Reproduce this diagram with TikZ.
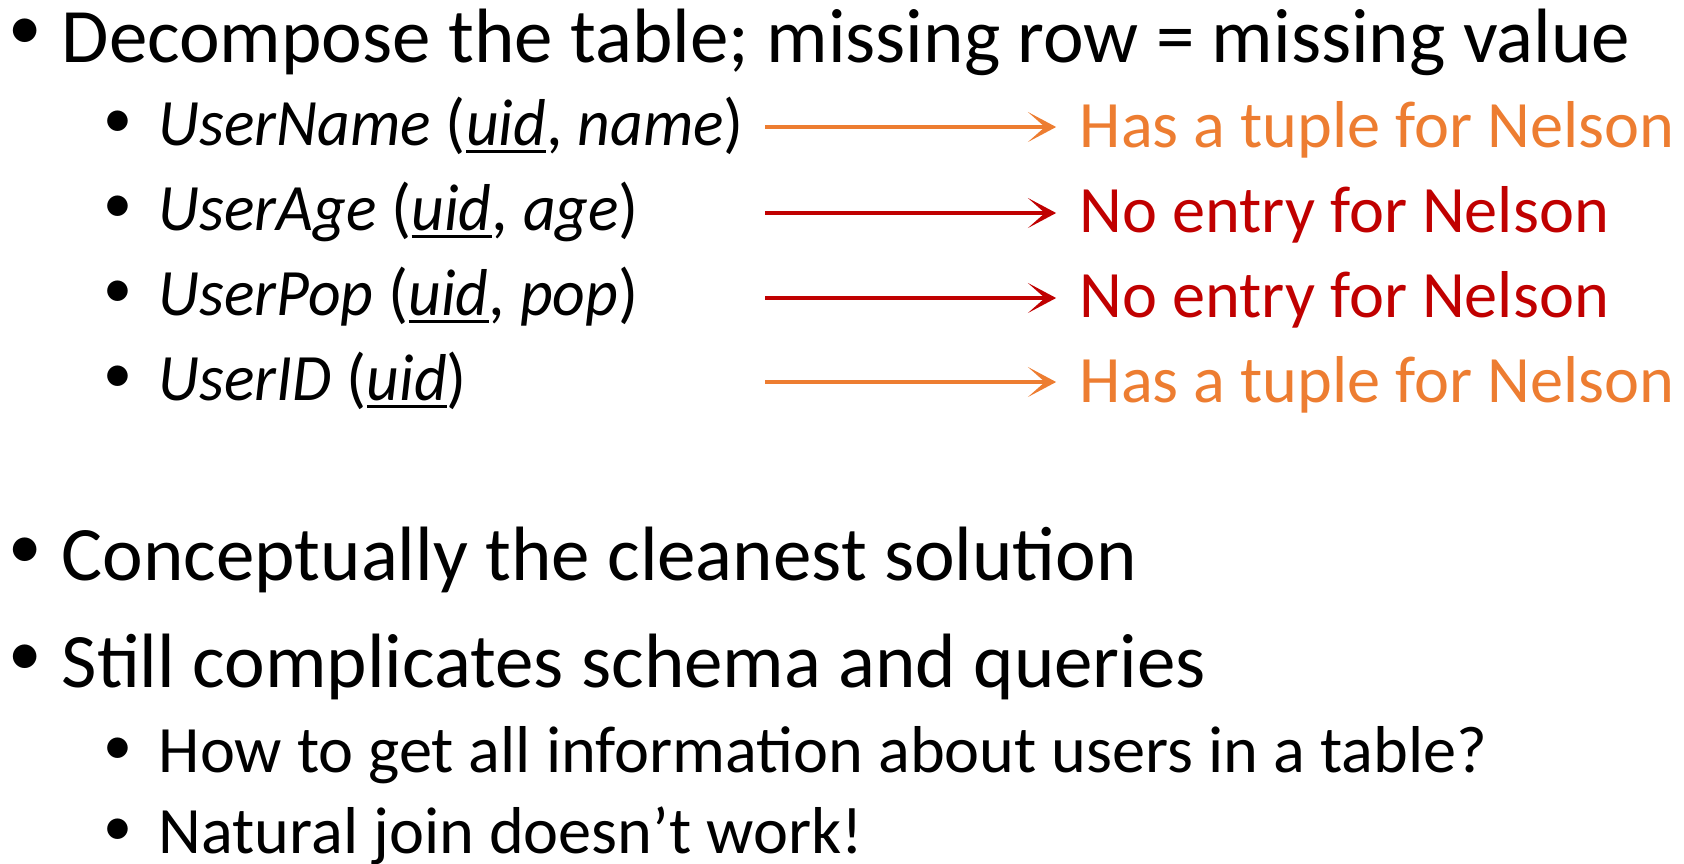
\documentclass[tikz,border=0pt]{standalone}
\usepackage{fontspec}
\setmainfont[ItalicFeatures={FakeStretch=0.96}]{Carlito}
\usepackage{xcolor}
\usepackage{tikz}
\usetikzlibrary{arrows.meta, positioning, calc}
\definecolor{hasorange}{HTML}{ED7D31}
\definecolor{nored}{HTML}{C00000}
\tikzset{
        lvlone/.style={anchor=base west, inner sep=0pt, font=\fontsize{21.9}{26}\selectfont},
        lvltwo/.style={anchor=base west, inner sep=0pt, font=\fontsize{18.85}{22}\selectfont},
        bulone/.style={anchor=center, inner sep=0pt, font=\fontsize{19}{22}\selectfont},
        bultwo/.style={anchor=center, inner sep=0pt, font=\fontsize{16.5}{20}\selectfont},
        note/.style={lvltwo},
        arrow/.style={-{Stealth[length=8pt, width=8.5pt, inset=4.8pt]}, line width=0.95pt, shorten >=6.5pt},
    }
% primary key: italic with a heavier underline
\newsavebox{\keybox}
\newcommand{\key}[1]{\sbox{\keybox}{\textit{#1}}\rlap{\rule[-2.4pt]{\wd\keybox}{0.85pt}}\usebox{\keybox}}

\begin{document}
\begin{tikzpicture}[x=0.01cm, y=-0.01cm]
        \useasboundingbox (0,0) rectangle (1684,863);

        % DECOMPOSITION
        \node[bulone] (b1) at (25,34) {\textbullet};
        \node[lvlone] (decomp) at (61,62) {Decompose the table; missing row = missing value};

        \node[bultwo] (b11) at (118,124) {\textbullet};
        \node[lvltwo] (uname) at (158,145) {\textit{UserName} (\key{uid}, \textit{name})};
        \node[bultwo] (b12) at (118,209) {\textbullet};
        \node[lvltwo] (uage) at (158,230) {\textit{UserAge} (\key{uid}, \textit{age})};
        \node[bultwo] (b13) at (118,294) {\textbullet};
        \node[lvltwo] (upop) at (158,315) {\textit{UserPop} (\key{uid}, \textit{pop})};
        \node[bultwo] (b14) at (118,379) {\textbullet};
        \node[lvltwo] (uid) at (158,400) {\textit{UserID} (\key{uid})};

        % Nelson per table
        \node[note, text=hasorange] (r1) at (1079,147) {Has a tuple for Nelson};
        \node[note, text=nored] (r2) at (1079,232) {No entry for Nelson};
        \node[note, text=nored] (r3) at (1079,317) {No entry for Nelson};
        \node[note, text=hasorange] (r4) at (1079,402) {Has a tuple for Nelson};

        \coordinate (a1) at (765,127);
        \coordinate (a2) at (765,213);
        \coordinate (a3) at (765,298);
        \coordinate (a4) at (765,382);

        % Arrows
        \draw[arrow, hasorange] (a1) -- (a1 -| r1.west);
        \draw[arrow, nored] (a2) -- (a2 -| r2.west);
        \draw[arrow, nored] (a3) -- (a3 -| r3.west);
        \draw[arrow, hasorange] (a4) -- (a4 -| r4.west);

        % PROS / CONS
        \node[bulone] (b2) at (25,553) {\textbullet};
        \node[lvlone] (clean) at (61,580) {Conceptually the cleanest solution};
        \node[bulone] (b3) at (25,660) {\textbullet};
        \node[lvlone] (still) at (61,687) {Still complicates schema and queries};

        \node[bultwo] (b31) at (118,751) {\textbullet};
        \node[lvltwo] (how) at (158,772) {How to get all information about users in a table?};
        \node[bultwo] (b32) at (118,832) {\textbullet};
        \node[lvltwo] (join) at (158,853) {Natural join doesn’t work!};
    \end{tikzpicture}
\end{document}
